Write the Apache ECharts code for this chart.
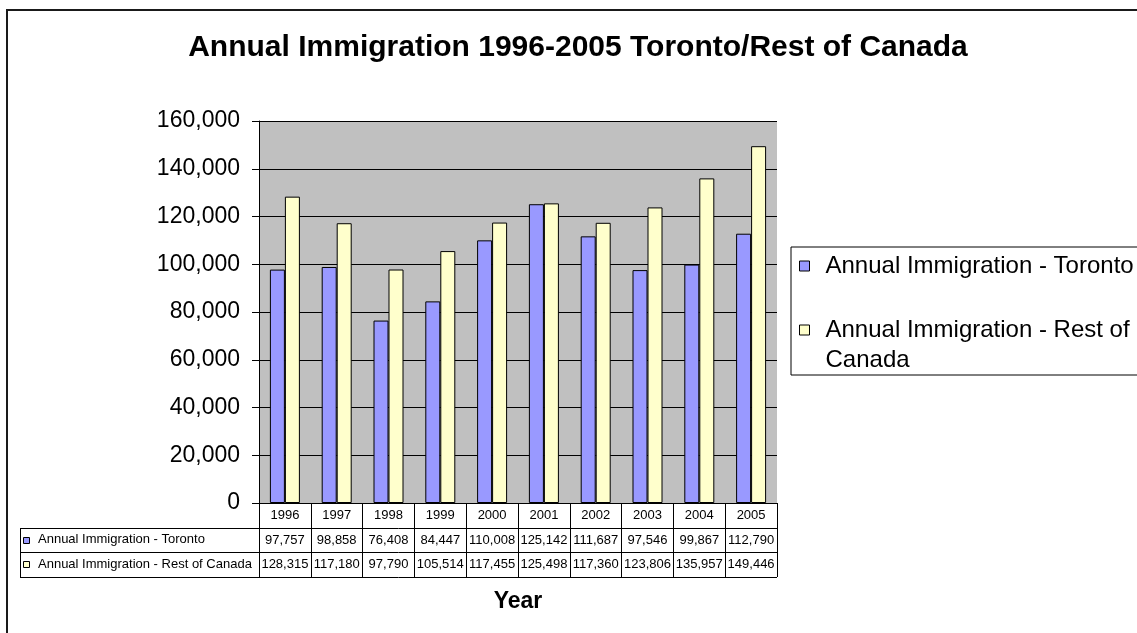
<!DOCTYPE html>
<html>
<head>
<meta charset="utf-8">
<script src="https://cdn.jsdelivr.net/npm/echarts@6/dist/echarts.min.js"></script>
<style>html,body{margin:0;padding:0;background:#fff;}#c{width:1137px;height:633px;}</style>
</head>
<body>
<div id="c"></div>
<script>
const years = ['1996','1997','1998','1999','2000','2001','2002','2003','2004','2005'];
const toronto = [97757, 98858, 76408, 84447, 110008, 125142, 111687, 97546, 99867, 112790];
const restOfCanada = [128315, 117180, 97790, 105514, 117455, 125498, 117360, 123806, 135957, 149446];
const yTicks = [0, 20000, 40000, 60000, 80000, 100000, 120000, 140000, 160000];
const S1 = 'Annual Immigration - Toronto';
const S2 = 'Annual Immigration - Rest of Canada';
const S2lines = ['Annual Immigration - Rest of', 'Canada'];
const titleText = 'Annual Immigration 1996-2005 Toronto/Rest of Canada';
const xName = 'Year';

const FF = '"Liberation Sans", Arial, sans-serif';
const fmt = v => String(v).replace(/\B(?=(\d{3})+(?!\d))/g, ',');
const C1 = '#9999FF', C2 = '#FFFFCC';

const G = {left: 259, top: 121, width: 518, height: 382};
const rowH = 24.5;
const tTop = G.top + G.height;
const tLeft = 20;
const tRight = G.left + G.width;

const chart = echarts.init(document.getElementById('c'), null, {renderer: 'canvas'});

const graphics = [
  {type: 'rect', shape: {x: 7, y: 10, width: 1300, height: 800}, style: {fill: 'none', stroke: '#1a1a1a', lineWidth: 2}, z: 0, silent: true}
];
[1, 2, 3].forEach(k => {
  const y = Math.round(tTop + k * rowH) + 0.5;
  graphics.push({type: 'line', shape: {x1: tLeft, y1: y, x2: tRight, y2: y}, style: {stroke: '#000', lineWidth: 1}, z: 10});
});
graphics.push({type: 'line', shape: {x1: tLeft + 0.5, y1: Math.round(tTop + rowH) + 0.5, x2: tLeft + 0.5, y2: Math.round(tTop + 3 * rowH) + 0.5}, style: {stroke: '#000', lineWidth: 1}, z: 10});
[[S1, C1], [S2, C2]].forEach((s, k) => {
  const cy = tTop + (k + 1.5) * rowH;
  graphics.push({type: 'rect', shape: {x: tLeft + 3.5, y: Math.round(cy - 3) + 0.5, width: 6, height: 6}, style: {fill: s[1], stroke: '#000', lineWidth: 1}, z: 10});
  graphics.push({type: 'text', x: tLeft + 18, y: cy, style: {text: s[0], fill: '#000', font: '13px ' + FF, verticalAlign: 'middle', align: 'left'}, z: 10});
});

const valueAxis = (arr, off) => ({
  type: 'category', data: years, gridIndex: 0, position: 'bottom', offset: off,
  axisLine: {show: false}, axisTick: {show: false}, splitLine: {show: false},
  axisLabel: {interval: 0, margin: 6, fontSize: 13, color: '#000', fontFamily: FF, formatter: (v, i) => fmt(arr[i])}
});

chart.setOption({
  animation: false,
  backgroundColor: '#fff',
  title: {
    text: titleText, left: 578, top: 33, textAlign: 'center', padding: 0,
    textStyle: {fontSize: 30, fontWeight: 'bold', color: '#000', fontFamily: FF}
  },
  legend: {
    orient: 'vertical', left: 791, top: 247,
    backgroundColor: '#fff', borderColor: '#000', borderWidth: 1, borderRadius: 0,
    padding: [4, 30, 0, 8], itemGap: 4, itemWidth: 10, itemHeight: 10, icon: 'rect',
    itemStyle: {borderColor: '#000', borderWidth: 1},
    textStyle: {
      fontSize: 24, lineHeight: 30, color: '#000', fontFamily: FF, padding: [0, 0, 0, 11],
      rich: {
        s: {fontSize: 24, lineHeight: 30, fontFamily: FF},
        t: {fontSize: 24, lineHeight: 30, color: '#000', fontFamily: FF}
      }
    },
    data: [S1, S2],
    formatter: n => n === S2 ? '{s| }\n' + S2lines.map(l => '{t|' + l + '}').join('\n') : n
  },
  grid: Object.assign({show: true, backgroundColor: '#C0C0C0', borderWidth: 0}, G),
  xAxis: [
    {
      type: 'category', data: years, position: 'bottom',
      name: xName, nameLocation: 'middle', nameGap: 87,
      nameTextStyle: {fontSize: 23, fontWeight: 'bold', color: '#000', fontFamily: FF},
      axisLine: {lineStyle: {color: '#000', width: 1}},
      axisTick: {show: true, length: Math.round(3 * rowH), lineStyle: {color: '#000'}},
      axisLabel: {interval: 0, margin: 6, fontSize: 13, color: '#000', fontFamily: FF},
      splitLine: {show: false}
    },
    valueAxis(toronto, rowH),
    valueAxis(restOfCanada, 2 * rowH)
  ],
  yAxis: {
    type: 'value', min: yTicks[0], max: yTicks[yTicks.length - 1], interval: yTicks[1] - yTicks[0],
    axisLine: {show: true, lineStyle: {color: '#000'}},
    axisTick: {show: true, length: 7, lineStyle: {color: '#000'}},
    axisLabel: {margin: 19, fontSize: 23, color: '#000', fontFamily: FF, formatter: v => fmt(v)},
    splitLine: {show: true, lineStyle: {color: '#000', width: 1}}
  },
  series: [
    {name: S1, type: 'bar', data: toronto, barWidth: 15, barGap: '0%', itemStyle: {color: C1, borderColor: '#000', borderWidth: 1}},
    {name: S2, type: 'bar', data: restOfCanada, barWidth: 15, barGap: '0%', itemStyle: {color: C2, borderColor: '#000', borderWidth: 1}}
  ],
  graphic: graphics
});
</script>
</body>
</html>
